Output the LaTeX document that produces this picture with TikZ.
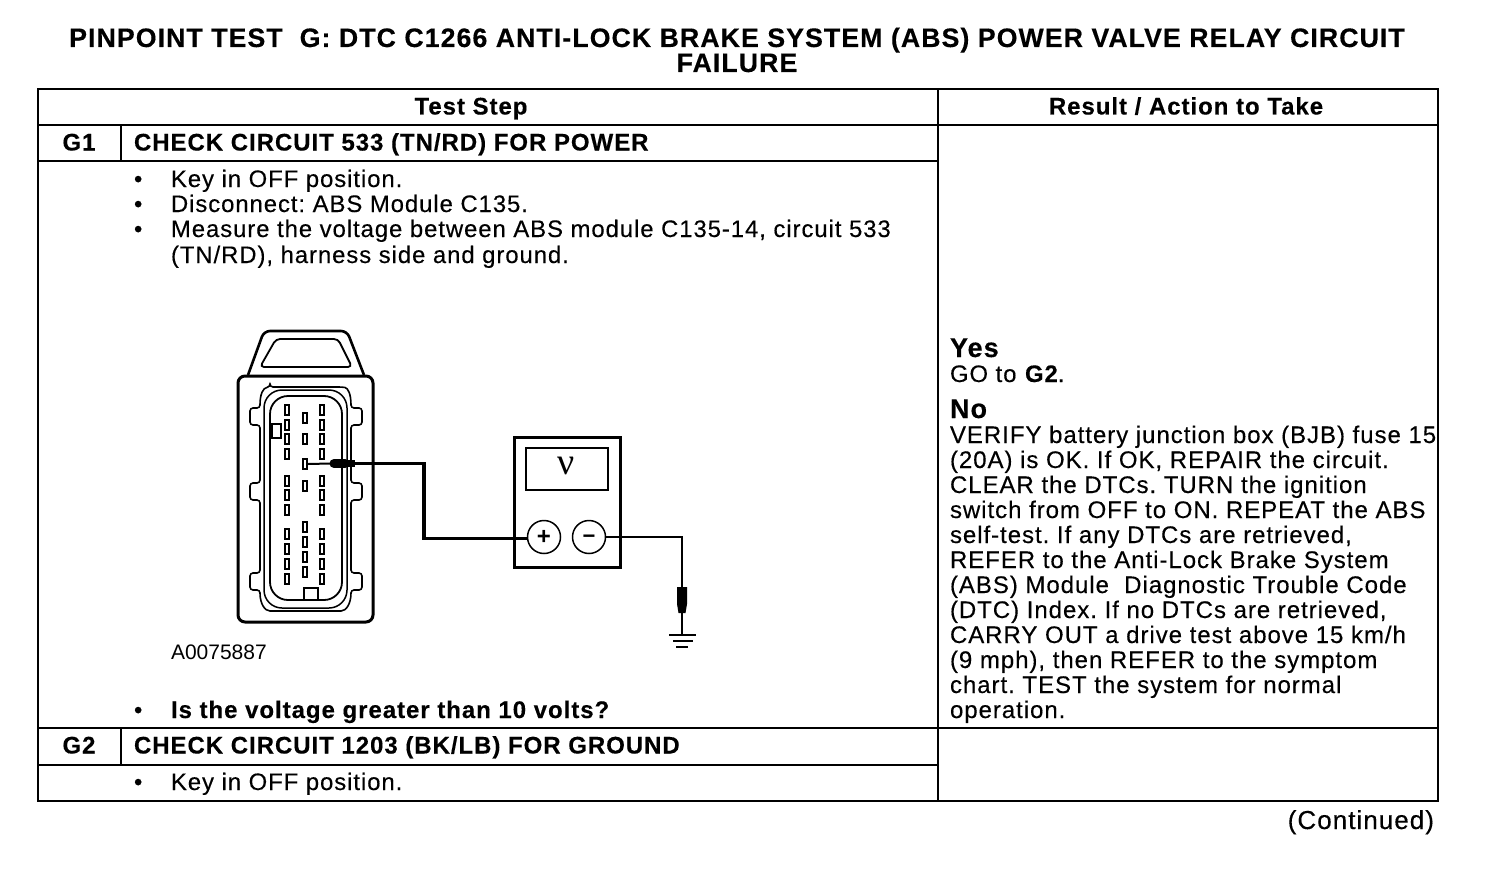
\documentclass[tikz,border=0pt]{standalone}
\usepackage{fontspec}
\setmainfont{Liberation Sans}[LetterSpace=4,FakeBold=0.3]
\newfontfamily\plainfont{Liberation Sans}
\newfontfamily\meterfont{Liberation Serif}
\usetikzlibrary{calc}
\frenchspacing
\tikzset{
 x=1pt,y=-1pt,
 grid/.style={line width=2.2pt,line cap=rect},
 txt/.style={anchor=base west,inner sep=0pt,outer sep=0pt,font=\fontsize{23.85}{25}\selectfont},
 bold/.style={txt,font=\fontsize{24}{25}\selectfont\bfseries},
 ctr/.style={bold,anchor=base},
 hdr/.style={anchor=base,inner sep=0pt,font=\fontsize{26.7}{28}\selectfont\bfseries},
 wire/.style={line width=3.3pt},
 wirer/.style={line width=2.8pt},
 thinw/.style={line width=2pt},
 pin/.style={draw,line width=1.8pt,minimum width=4.5pt,minimum height=9.5pt,inner sep=0pt,fill=white},
 term/.style={draw,circle,line width=1.5pt,minimum size=33pt,inner sep=0pt,fill=white},
 meter/.style={draw,line width=3pt,minimum width=106pt,minimum height=130pt,inner sep=0pt},
 disp/.style={draw,line width=2.3pt,minimum width=82pt,minimum height=42pt,inner sep=0pt},
 res/.style={txt,font=\fontsize{24}{25}\selectfont},
}
\begin{document}
\begin{tikzpicture}
\useasboundingbox (0,0) rectangle (1504,872);
\fill[white] (0,0) rectangle (1504,872);
% title
\node[hdr] (title1) at (737,47) {PINPOINT TEST\ \ G: DTC C1266 ANTI-LOCK BRAKE SYSTEM (ABS) POWER VALVE RELAY CIRCUIT};
\node[hdr] (title2) at (737,72) {FAILURE};
% table
\draw[grid] (38,89) rectangle (1438,801);
\draw[grid] (938,89) -- (938,801);
\draw[grid] (38,125) -- (1438,125);
\draw[grid] (38,161) -- (938,161);
\draw[grid] (38,728) -- (1438,728);
\draw[grid] (38,765) -- (938,765);
\draw[grid] (121,125) -- (121,161);
\draw[grid] (121,728) -- (121,765);
% headers
\node[ctr] (hstep) at (471,114.5) {Test Step};
\node[ctr] (hres) at (1186,114.5) {Result / Action to Take};
\node[ctr] (g1) at (79,150.5) {G1};
\node[bold] (g1t) at (134,150.5) {CHECK CIRCUIT 533 (TN/RD) FOR POWER};
\node[ctr] (g2) at (79,753.5) {G2};
\node[bold] (g2t) at (134,753.5) {CHECK CIRCUIT 1203 (BK/LB) FOR GROUND};
% steps
\foreach \n/\y in {b1/187,b2/212,b3/237,b4/718,b5/790}{\node[txt] (\n) at (134,\y) {•};}
\node[txt] (s1) at (171,187) {Key in OFF position.};
\node[txt] (s2) at (171,212) {Disconnect: ABS Module C135.};
\node[txt] (s3) at (171,237) {Measure the voltage between ABS module C135-14, circuit 533};
\node[txt] (s3b) at (171,263) {(TN/RD), harness side and ground.};
\node[txt,font=\fontsize{21}{24}\selectfont\plainfont] (fig) at (171,659) {A0075887};
\node[bold] (s4) at (171,718) {Is the voltage greater than 10 volts?};
\node[txt] (s5) at (171,790) {Key in OFF position.};
% results
\node[bold,font=\fontsize{27}{28}\selectfont\bfseries] (yes) at (950,357) {Yes};
\node[txt] (r0) at (950,382) {GO to \textbf{G2}.};
\node[bold,font=\fontsize{27}{28}\selectfont\bfseries] (no) at (950,418) {No};
\foreach \n/\y/\t in {
 r1/443/{VERIFY battery junction box (BJB) fuse 15},
 r2/468/{(20A) is OK. If OK, REPAIR the circuit.},
 r3/493/{CLEAR the DTCs. TURN the ignition},
 r4/518/{switch from OFF to ON. REPEAT the ABS},
 r5/543/{self-test. If any DTCs are retrieved,},
 r6/568/{REFER to the Anti-Lock Brake System},
 r7/593/{(ABS) Module\ \ Diagnostic Trouble Code},
 r8/618/{(DTC) Index. If no DTCs are retrieved,},
 r9/643/{CARRY OUT a drive test above 15 km/h},
 r10/668/{(9 mph), then REFER to the symptom},
 r11/693/{chart. TEST the system for normal},
 r12/718/{operation.}}{\node[res] (\n) at (950,\y) {\t};}
\node[txt,anchor=base east,font=\fontsize{26}{28}\selectfont] (cont) at (1434,829) {(Continued)};
% connector body
\draw[line width=3pt,rounded corners=7pt] (238,500) -- (238,622) -- (373,622) -- (373,376) -- (238,376) -- cycle;
\draw[line width=2.6pt,rounded corners=6pt] (248,375) -- (264,331) -- (347,331) -- (364,375);
\draw[line width=1.8pt,rounded corners=4pt] (260,367) -- (276,339) -- (338,339) -- (352,367) -- cycle;
% outer flange
\draw[line width=1.6pt,rounded corners=3pt] (270,387) -- (342,387) .. controls (348,388) and (351,394) .. (351,408) -- (362,408) -- (362,425) -- (351,425)
  -- (351,483) -- (362,483) -- (362,500) -- (351,500) -- (351,573) -- (362,573) -- (362,590) -- (351,590)
  .. controls (351,604) and (346,611) .. (338,611) -- (273,611) .. controls (265,611) and (260,604) .. (260,590)
  -- (250,590) -- (250,573) -- (260,573) -- (260,500) -- (250,500) -- (250,483) -- (260,483) -- (260,425)
  -- (250,425) -- (250,408) -- (260,408) .. controls (260,394) and (263,388) .. (270,387) -- cycle;
% inner walls
\draw[line width=1.5pt,rounded corners=18pt] (264,390) -- (347,390) -- (347,608) -- (264,608) -- cycle;
\draw[line width=1.8pt,rounded corners=18pt] (270,396) -- (342,396) -- (342,600) -- (270,600) -- cycle;
% key slots
\draw[line width=1.6pt,fill=white] (272,424) rectangle (281,438);
\draw[line width=1.8pt,fill=white] (304,588) rectangle (318,600);
% pins
\foreach \y in {410,425,439,454,481,495,510,534,549,564,579}{
 \node[pin] at (287,\y) {};
 \node[pin] at (322,\y) {};
}
\foreach \y in {418,439,486,527,542,557,572}{\node[pin] at (305,\y) {};}
\node[pin] (p14) at (305,464) {};
% meter
\node[meter] (vm) at (567,502) {};
\node[disp] (vd) at (567,469) {};
\node[inner sep=0pt,font=\fontsize{38}{38}\selectfont\meterfont] (vv) at (566,466) {ν};
\node[term] (tp) at (544,537) {};
\node[term] (tm) at (589,537) {};
\node[inner sep=0pt,font=\fontsize{24}{24}\selectfont\bfseries\plainfont] (pl) at (544,537.5) {+};
\node[inner sep=0pt,font=\fontsize{22}{22}\selectfont\bfseries\plainfont] (mi) at (589,539) {−};
% probes and wires
\coordinate (pr1) at (330,463.5);
\coordinate (pr2) at (355,463.5);
\coordinate (gp1) at (682,587);
\coordinate (gp2) at (682,613);
\coordinate (gnd) at (682,635);
\draw[thinw] (p14.east) -- (pr1);
\draw[line width=9pt,line cap=round] (334,463.5) -- (345,463.5);
\draw[line width=7pt] (345,463.5) -- (pr2);
\draw[wire] (pr2) -- (424,463.5) -- (424,538.5) -- (tp.west |- 0,538.5);
\draw[wirer] (tm.east) -- (682,537) -- (gp1);
\fill (677,587) -- (687,587) -- (687,604) -- (685.5,613) -- (678.5,613) -- (677,604) -- cycle;
\draw[wirer] (gp2) -- (gnd);
\draw[line width=2.8pt] (669,635) -- (696,635);
\draw[line width=2.8pt] (673,641) -- (693,641);
\draw[line width=2.8pt] (676,647) -- (688,647);
\end{tikzpicture}
\end{document}
